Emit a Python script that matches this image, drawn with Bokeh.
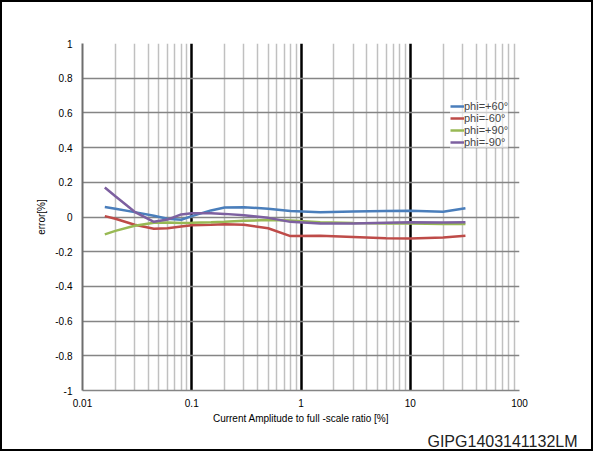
from bokeh.plotting import figure
from bokeh.models import FixedTicker, CustomJSTickFormatter, Legend, LegendItem, Title
from bokeh.embed import file_html
from bokeh.resources import INLINE

# ---- data ----
ratio = [0.016, 0.02, 0.03, 0.045, 0.06, 0.08, 0.1, 0.15, 0.2, 0.3, 0.5, 0.8, 1.5, 3, 6, 10, 20, 32]
phi_p60 = [0.057, 0.048, 0.028, 0.007, -0.01, -0.016, 0.005, 0.038, 0.055, 0.056, 0.048, 0.035, 0.027, 0.031, 0.035, 0.036, 0.030, 0.050]
phi_m60 = [0.005, -0.010, -0.045, -0.068, -0.065, -0.055, -0.048, -0.045, -0.042, -0.045, -0.065, -0.110, -0.108, -0.115, -0.123, -0.124, -0.118, -0.108]
phi_p90 = [-0.100, -0.080, -0.050, -0.033, -0.032, -0.034, -0.033, -0.030, -0.027, -0.022, -0.018, -0.020, -0.030, -0.035, -0.037, -0.038, -0.040, -0.041]
phi_m90 = [0.170, 0.120, 0.030, -0.028, -0.015, 0.015, 0.022, 0.022, 0.018, 0.010, -0.005, -0.028, -0.038, -0.037, -0.033, -0.030, -0.032, -0.030]

series_names = ["phi=+60°", "phi=-60°", "phi=+90°", "phi=-90°"]
series_colors = ["#4a7ebb", "#be4b48", "#98b954", "#7d60a0"]

x_major = [0.01, 0.1, 1, 10, 100]
x_decades = [0.1, 1, 10, 100]
x_minor = [m * d for d in [0.01, 0.1, 1, 10] for m in range(2, 10)]
y_ticks = [-1, -0.8, -0.6, -0.4, -0.2, 0, 0.2, 0.4, 0.6, 0.8, 1]
figure_code = "GIPG1403141132LM"

FONT = "Liberation Sans"

p = figure(width=593, height=451, x_axis_type="log", x_range=(0.01, 100), y_range=(-1, 1),
           output_backend="svg", toolbar_location=None,
           min_border_left=80, min_border_right=76, min_border_top=41, min_border_bottom=62)
p.styles = {"border": "2px solid black"}
p.outline_line_color = None
p.background_fill_color = "white"
p.border_fill_color = "white"

# grids
p.xgrid.ticker = FixedTicker(ticks=x_decades, minor_ticks=x_minor)
p.xgrid.grid_line_color = "black"
p.xgrid.grid_line_width = 2.5
p.xgrid.minor_grid_line_color = "#c0c0c0"
p.xgrid.minor_grid_line_width = 1.5
p.ygrid.ticker = FixedTicker(ticks=y_ticks)
p.ygrid.grid_line_color = "#858585"
p.ygrid.grid_line_width = 1.5

# axes
p.xaxis.ticker = FixedTicker(ticks=x_major)
p.xaxis.formatter = CustomJSTickFormatter(code="return tick.toString();")
p.yaxis.ticker = FixedTicker(ticks=y_ticks)
p.yaxis.formatter = CustomJSTickFormatter(code="return (Math.round(tick*10)/10).toString();")
for ax in (p.xaxis[0], p.yaxis[0]):
    ax.major_tick_line_color = None
    ax.minor_tick_line_color = None
    ax.major_label_text_font = FONT
    ax.major_label_text_font_size = "10px"
    ax.major_label_text_color = "black"
    ax.axis_label_text_font = FONT
    ax.axis_label_text_font_size = "10px"
    ax.axis_label_text_font_style = "normal"
    ax.axis_label_text_color = "black"
p.xaxis.axis_label = "Current Amplitude to full -scale ratio [%]"
p.yaxis.axis_label = "error[%]"
p.xaxis.axis_line_color = "#858585"
p.xaxis.axis_line_width = 1.5
p.yaxis.axis_line_color = "#6e6e6e"
p.yaxis.axis_line_width = 2
p.xaxis.major_label_standoff = 2
p.yaxis.major_label_standoff = 4
p.xaxis.axis_label_standoff = 3
p.yaxis.axis_label_standoff = 5

renderers = []
for ys, c in zip([phi_p60, phi_m60, phi_p90, phi_m90], series_colors):
    renderers.append(p.line(ratio, ys, line_color=c, line_width=2.5))

legend = Legend(items=[LegendItem(label=n, renderers=[r]) for n, r in zip(series_names, renderers)],
                location=(368, 242), orientation="vertical",
                label_text_font=FONT, label_text_font_size="11px",
                label_height=10, glyph_height=10, glyph_width=14, label_standoff=0,
                spacing=0, padding=1, margin=0,
                background_fill_color="white", background_fill_alpha=0.6,
                border_line_color=None)
p.add_layout(legend)

p.add_layout(Title(text=figure_code, align="right", offset=-58, standoff=8,
                   text_font=FONT, text_font_size="16px", text_font_style="normal",
                   text_color="#222222"), "below")

open("out.html", "w").write(file_html(p, INLINE))
